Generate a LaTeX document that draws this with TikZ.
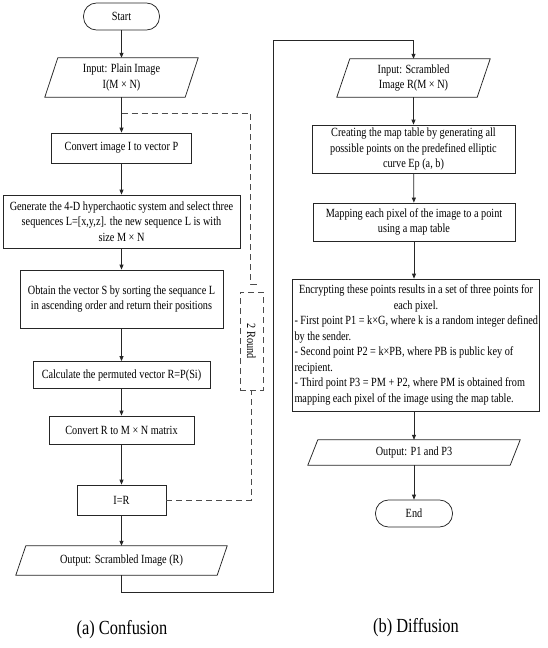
\documentclass[tikz,border=0pt]{standalone}
\usepackage{fontspec}
\usepackage{graphicx}
\setmainfont{Liberation Serif}[FakeStretch=0.82]
\newfontfamily\capfont{Liberation Serif}
\usetikzlibrary{arrows.meta}
\newcommand\pgram[2]{\draw[outline] ([xshift=#2]#1.north west) -- (#1.north east) -- ([xshift=-#2]#1.south east) -- (#1.south west) -- cycle;}
\newcommand\leftln[1]{\makebox[243pt][l]{#1}}
\newcommand\captext[1]{\scalebox{0.82}[1]{\capfont\fontsize{20}{22}\selectfont #1}}
\begin{document}
\begin{tikzpicture}[x=1pt,y=-1pt,
  every node/.style={font=\rmfamily\fontsize{12.5}{15.5}\selectfont, inner sep=1pt, align=center},
  outline/.style={draw=black!85, line width=0.75pt},
  proc/.style={outline},
  term/.style={outline, rounded corners=13pt},
  io/.style={},
  arr/.style={draw=black!85, line width=0.75pt, -{Triangle[length=5pt,width=4pt]}},
  dashline/.style={draw=black!70, line width=0.7pt, dash pattern=on 6pt off 4pt},
  caption/.style={}]
\useasboundingbox[fill=white] (0,0) rectangle (547,648);

% ---------- left chart ----------
\node[term, minimum width=76pt, minimum height=27pt] (start) at (121.5,16.5) {Start};
\node[io, minimum width=153pt, minimum height=39pt] (in1) at (121.5,77.5) {Input: Plain Image\\I(M × N)};
\pgram{in1}{13pt}
\node[proc, minimum width=140pt, minimum height=30pt] (conv) at (121.5,148) {Convert image I to vector P};
\node[proc, minimum width=237pt, minimum height=53pt] (gen) at (121.5,221.5) {Generate the 4-D hyperchaotic system and select three\\sequences L=[x,y,z]. the new sequence L is with\\size M × N};
\node[proc, minimum width=203pt, minimum height=58pt] (obt) at (121.5,299) {Obtain the vector S by sorting the sequance L\\in ascending order and return their positions};
\node[proc, minimum width=177pt, minimum height=27pt] (calc) at (121.5,375) {Calculate the permuted vector R=P(Si)};
\node[proc, minimum width=145pt, minimum height=28pt] (convr) at (121.5,430) {Convert R to M × N matrix};
\node[proc, minimum width=89pt, minimum height=30pt] (ir) at (121.5,500) {I=R};
\node[io, minimum width=211pt, minimum height=29pt] (out1) at (121.5,560.5) {Output: Scrambled Image (R)};
\pgram{out1}{10pt}

\draw[arr] (start) -- (in1);
\draw[arr] (in1) -- (conv);
\draw[arr] (conv) -- (gen);
\draw[arr] (gen) -- (obt);
\draw[arr] (obt) -- (calc);
\draw[arr] (calc) -- (convr);
\draw[arr] (convr) -- (ir);
\draw[arr] (ir) -- (out1);

% loop (2 rounds)
\node[draw=black!70, line width=0.7pt, dash pattern=on 6pt off 4pt, minimum width=23pt, minimum height=98pt, inner sep=0pt] (round) at (251.5,341) {};
\node[rotate=-90] (roundtxt) at (round.center) {2 Round};
\coordinate (join) at (121.5,113);
\coordinate (lt) at (250.5,113);
\coordinate (lb) at (250.5,284);
\coordinate (ltick) at (257,284);
\coordinate (rb) at (251.5,500);
\draw[dashline] (join) -- (lt) -- (lb) -- (ltick);
\draw[dashline] (ir.east) -- (rb) -- (round.south);

% link to right chart
\coordinate (c1) at (273,592);
\coordinate (c2) at (273,40.5);

% ---------- right chart ----------
\node[io, minimum width=153pt, minimum height=38pt] (in2) at (413.5,78) {Input: Scrambled\\Image R(M × N)};
\pgram{in2}{13pt}
\node[proc, minimum width=203pt, minimum height=48pt] (creat) at (413.5,149) {Creating the map table by generating all\\possible points on the predefined elliptic\\curve Ep (a, b)};
\node[proc, minimum width=202pt, minimum height=38pt] (map) at (414,222) {Mapping each pixel of the image to a point\\using a map table};
\node[proc, minimum width=247pt, minimum height=132pt] (enc) at (416,345) {Encrypting these points results in a set of three points for\\each pixel.\\
\leftln{- First point P1 = k×G, where k is a random integer defined}\\
\leftln{by the sender.}\\
\leftln{- Second point P2 = k×PB, where PB is public key of}\\
\leftln{recipient.}\\
\leftln{- Third point P3 = PM + P2, where PM is obtained from}\\
\leftln{mapping each pixel of the image using the map table.}};
\node[io, minimum width=212pt, minimum height=25pt] (out2) at (414,452.5) {Output: P1 and P3};
\pgram{out2}{10pt}
\node[term, minimum width=77pt, minimum height=27pt] (end) at (414,513.5) {End};

\draw[arr] (out1.south) |- (c1) -- (c2) -| (in2.north);
\draw[arr] (in2) -- (creat);
\draw[arr] (creat) -- (map);
\draw[arr] (map.south) -- (map.south |- enc.north);
\draw[arr] (enc.south -| out2.north) -- (out2.north);
\draw[arr] (out2) -- (end);

% captions
\node[caption] (capa) at (122,630) {\captext{(a) Confusion}};
\node[caption] (capb) at (416,628) {\captext{(b) Diffusion}};
\end{tikzpicture}
\end{document}
